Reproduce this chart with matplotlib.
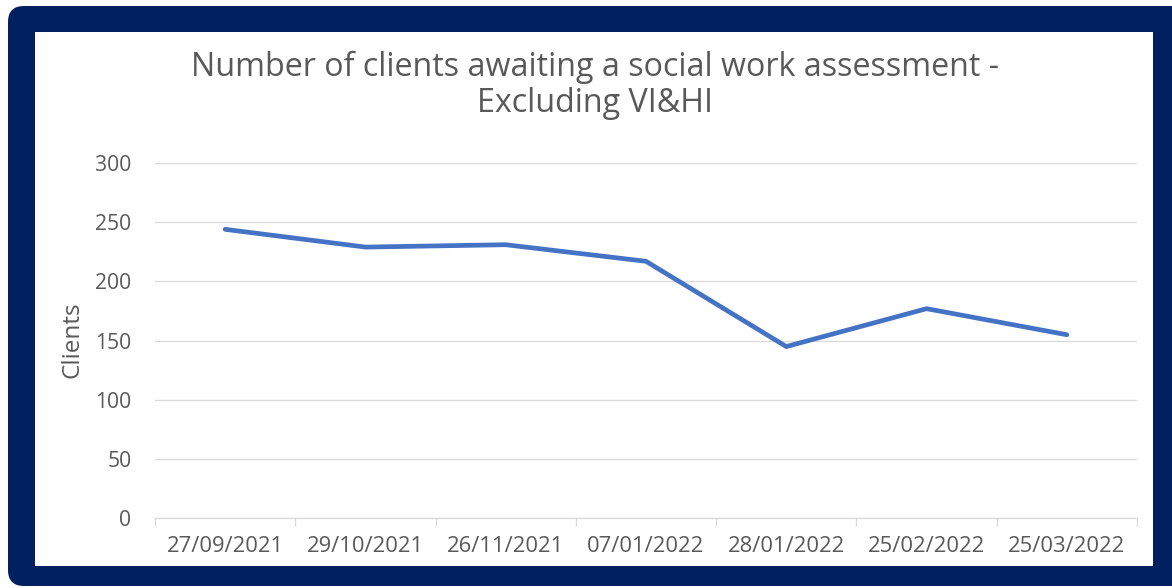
import matplotlib.pyplot as plt
from matplotlib.patches import FancyBboxPatch, Rectangle
import numpy as np

dates = ['27/09/2021', '29/10/2021', '26/11/2021', '07/01/2022',
         '28/01/2022', '25/02/2022', '25/03/2022']
clients = [244, 229, 231, 217, 145, 177, 155]
yticks = [0, 50, 100, 150, 200, 250, 300]

W, H = 1172, 588
navy = '#002060'
grey = '#595959'
plt.rcParams['font.family'] = ['Open Sans', 'DejaVu Sans']

fig = plt.figure(figsize=(W / 100, H / 100), dpi=100)
fig.patch.set_facecolor('white')

# background axes in pixel units for the frame
bg = fig.add_axes([0, 0, 1, 1])
bg.set_xlim(0, W)
bg.set_ylim(H, 0)
bg.axis('off')
bg.set_zorder(0)
bg.add_patch(FancyBboxPatch((8, 6), W + 30, 580,
                            boxstyle='round,pad=0,rounding_size=16',
                            facecolor=navy, edgecolor='none'))
bg.add_patch(Rectangle((35, 32), 1153 - 35, 566 - 32,
                       facecolor='white', edgecolor='none'))

ax = fig.add_axes([155 / W, (H - 518.3) / H, (1137 - 155) / W, (518.3 - 163) / H])
ax.set_facecolor('none')
ax.set_zorder(2)

x = np.arange(len(dates))
ax.plot(x, clients, color='#4472C4', lw=3.4, solid_capstyle='round',
        solid_joinstyle='round', zorder=3)

ax.set_xlim(-0.5, len(dates) - 0.5)
ax.set_ylim(0, 300)
ax.set_yticks(yticks)
ax.grid(axis='y', color='#D9D9D9', lw=0.9)
ax.set_axisbelow(True)

ax.set_xticks(x)
ax.set_xticklabels(dates)
ax.set_xticks(np.arange(len(dates) + 1) - 0.5, minor=True)
ax.tick_params(axis='x', which='major', length=0, pad=13, labelsize=15.8, labelcolor=grey)
ax.tick_params(axis='x', which='minor', length=6, width=0.9, color='#D9D9D9')
ax.tick_params(axis='y', length=0, pad=17, labelsize=15.2, labelcolor=grey)

for s in ['left', 'right', 'top']:
    ax.spines[s].set_visible(False)
ax.spines['bottom'].set_color('#D9D9D9')
ax.spines['bottom'].set_linewidth(0.9)

fig.text(72 / W, 1 - 340 / H, 'Clients', rotation=90, ha='center', va='center',
         fontsize=17.5, color=grey, zorder=3)
fig.text(595 / W, 1 - 85 / H,
         'Number of clients awaiting a social work assessment -\nExcluding VI&HI',
         ha='center', va='center', fontsize=23.2, color=grey, linespacing=1.12, zorder=3)

fig.savefig('out.png', dpi=100)
